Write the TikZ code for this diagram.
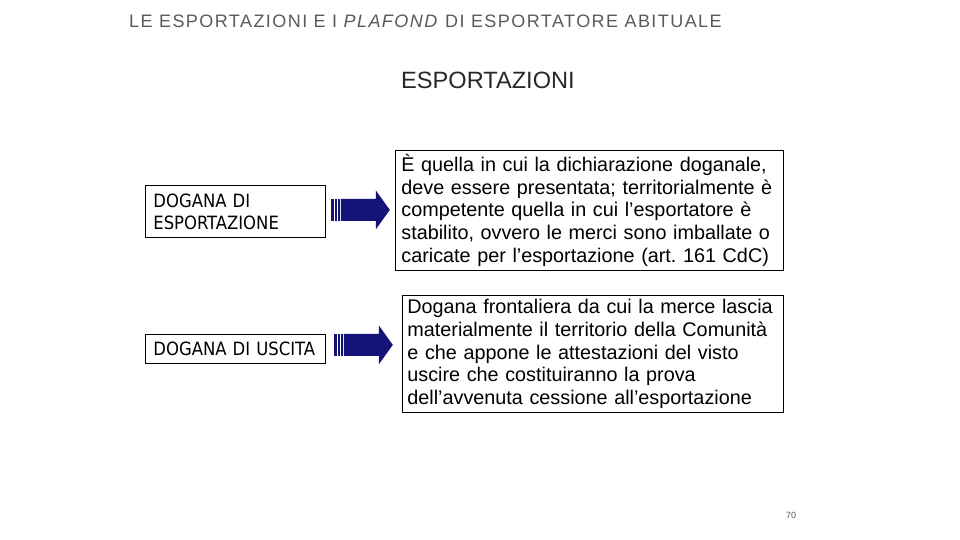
\documentclass[tikz,border=0pt]{standalone}
\usepackage{fontspec}
\setmainfont{Liberation Sans}
\newfontfamily\boxfont{DejaVu Sans Condensed}
\newfontfamily\titlefont[LetterSpace=8]{Liberation Sans}
\usetikzlibrary{calc}
\definecolor{navyarrow}{RGB}{20,20,120}
\definecolor{titlegray}{RGB}{90,90,90}
\definecolor{headgray}{RGB}{40,40,40}
\tikzset{
  leftbox/.style={draw=black, line width=0.8pt, rectangle, align=left, inner xsep=8pt, inner ysep=0pt,
    text width=164pt, minimum height=#1, font=\boxfont\fontsize{18.3}{22}\selectfont},
  rightbox/.style={draw=black, line width=0.8pt, rectangle, align=left, inner ysep=0pt,
    font=\fontsize{19.8}{22.7}\selectfont\frenchspacing},
  blockarrow/.pic={
    \fill[navyarrow] (0,-11) rectangle (3,11);
    \fill[navyarrow] (4,-11) rectangle (6,11);
    \fill[navyarrow] (7,-11) rectangle (9,11);
    \fill[navyarrow] (10,-11) -- (45,-11) -- (45,-19.5) -- (59,0) -- (45,19.5) -- (45,11) -- (10,11) -- cycle;
  }
}
\begin{document}
\begin{tikzpicture}[x=1pt,y=-1pt]
\useasboundingbox (0,0) rectangle (960,540);
\fill[white] (0,0) rectangle (960,540);

\node[anchor=base west, inner sep=0pt, text=titlegray, font=\titlefont\fontsize{18}{20}\selectfont] (title) at (129,27.3)
  {LE ESPORTAZIONI E I \textit{PLAFOND} DI ESPORTATORE ABITUALE};
\node[anchor=base west, inner sep=0pt, text=headgray, font=\fontsize{23.6}{26}\selectfont] (head) at (401,88.7)
  {ESPORTAZIONI};

\node[leftbox=52pt, anchor=north west] (l1) at (145,185) {DOGANA DI\\ESPORTAZIONE};
\node[leftbox=29pt, anchor=north west] (l2) at (145,334) {DOGANA DI USCITA};

\node[rightbox, anchor=north west, inner xsep=6pt, text width=376pt, minimum height=120pt] (r1) at (395,150)
  {\hyphenpenalty=10000 È quella in cui la dichiarazione doganale,\\
   deve essere presentata; territorialmente è\\
   competente quella in cui l’esportatore è\\
   stabilito, ovvero le merci sono imballate o\\
   caricate per l’esportazione (art. 161 CdC)};
\node[rightbox, anchor=north west, inner xsep=5pt, text width=371pt, minimum height=117pt] (r2) at (402,295)
  {\hyphenpenalty=10000 Dogana frontaliera da cui la merce lascia\\
   materialmente il territorio della Comunità\\
   e che appone le attestazioni del visto\\
   uscire che costituiranno la prova\\
   dell’avvenuta cessione all’esportazione};

\pic at ($(l1.east)+(5,-1.5)$) {blockarrow};
\pic at ($(l2.east)+(8,-4)$) {blockarrow};

\node[anchor=center, inner sep=0pt, text=titlegray, font=\fontsize{9}{10}\selectfont] (pg) at (791,515) {70};
\end{tikzpicture}
\end{document}
